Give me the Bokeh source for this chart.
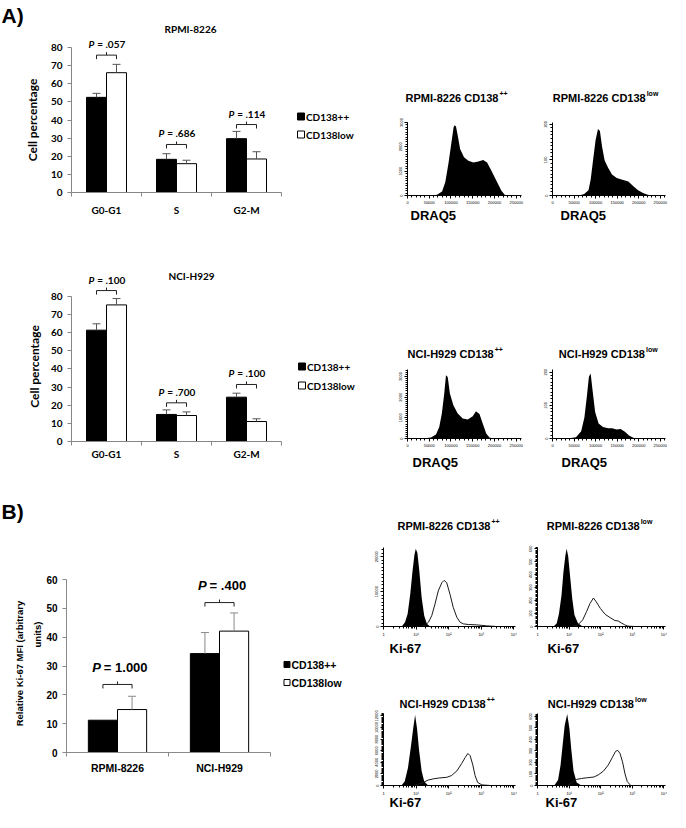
import math
from bokeh.plotting import figure
from bokeh.models import Range1d, FixedTicker, SingleIntervalTicker, LinearAxis, PrintfTickFormatter
from bokeh.embed import file_html
from bokeh.resources import INLINE
from bokeh.core.properties import value

# ---------------- data: bar charts ----------------
series_names = ["CD138++", "CD138low"]

phases = ["G0-G1", "S", "G2-M"]
rpmi_hi = [52.5, 18.3, 29.7]
rpmi_hi_err = [2.2, 3.1, 4.0]
rpmi_low = [66.1, 15.9, 18.5]
rpmi_low_err = [4.6, 1.9, 4.0]
rpmi_pvals = [".057", ".686", ".114"]
rpmi_bracket_y = [75.8, 26.5, 37.5]

nci_hi = [61.3, 14.9, 24.4]
nci_hi_err = [3.5, 2.5, 2.2]
nci_low = [75.2, 14.3, 11.0]
nci_low_err = [3.5, 2.0, 1.5]
nci_pvals = [".100", ".700", ".100"]
nci_bracket_y = [83.1, 21.3, 31.4]

cell_lines = ["RPMI-8226", "NCI-H929"]
ki_hi = [11.2, 34.3]
ki_hi_err = [0.0, 7.3]
ki_low = [14.9, 42.1]
ki_low_err = [4.6, 6.3]
ki_pvals = ["1.000", ".400"]
ki_bracket_y = [23.6, 52.0]

# ---------------- data: DRAQ5 histograms ----------------
draq_rpmi_hi_x = [53000, 68000, 79500, 87000, 94500, 101000, 106000, 108500, 111500, 115000, 121000,
                  130000, 140000, 151500, 163000, 174000, 183000, 193000, 204500, 216000, 223500, 231000]
draq_rpmi_hi_y = [0, 30, 160, 550, 1360, 2180, 2800, 2890, 2840, 2520, 1910,
                  1570, 1430, 1360, 1400, 1460, 1360, 1020, 610, 200, 30, 0]
draq_rpmi_low_x = [62000, 73500, 83500, 88500, 94000, 100000, 105500, 110000, 115000, 121000,
                   129000, 138000, 149000, 162000, 176000, 187000, 198500, 210000, 221000, 232500]
draq_rpmi_low_y = [0, 4, 15, 44, 98, 156, 187, 181, 137, 98, 78, 59, 49, 44, 39, 27, 15, 7, 2, 0]
draq_nci_hi_x = [34500, 54000, 65500, 73000, 79000, 84500, 88500, 92500, 97500, 105500,
                 115500, 127000, 138500, 150000, 157500, 165500, 173000, 181000, 188500, 196000]
draq_nci_hi_y = [0, 50, 190, 560, 1210, 2180, 3060, 2980, 2180, 1610, 1210, 970, 920, 1080, 1320,
                 1180, 730, 240, 50, 0]
draq_nci_low_x = [35000, 54500, 66500, 74000, 79500, 84500, 88500, 93000, 99000, 107000,
                  117000, 129000, 138500, 148500, 158000, 168000, 177500, 187500, 195500]
draq_nci_low_y = [0, 4, 22, 63, 124, 186, 196, 145, 79, 45, 35, 31, 31, 27, 29, 20, 9, 2, 0]

# ---------------- data: Ki-67 histograms (x = log10 fluorescence) ----------------
ki_rpmi_hi_fill_x = [0.56, 0.66, 0.74, 0.82, 0.89, 0.95, 0.99, 1.04, 1.10, 1.17, 1.25, 1.33, 1.43]
ki_rpmi_hi_fill_y = [0, 1230, 3590, 9250, 15850, 20570, 22260, 21040, 15850, 8300, 3110, 760, 0]
ki_rpmi_hi_x = [1.12, 1.28, 1.38, 1.48, 1.58, 1.68, 1.79, 1.86, 1.94, 2.04, 2.14, 2.25, 2.35, 2.45,
                2.60, 2.86, 3.16, 3.47]
ki_rpmi_hi_y = [0, 380, 1230, 3110, 6420, 10190, 12550, 13210, 12550, 9250, 5470, 2640, 1230, 760,
                570, 470, 190, 0]
ki_rpmi_low_fill_x = [0.51, 0.61, 0.68, 0.76, 0.82, 0.88, 0.92, 0.97, 1.03, 1.10, 1.17, 1.28, 1.43]
ki_rpmi_low_fill_y = [0, 25, 101, 241, 418, 544, 600, 544, 392, 215, 89, 25, 0]
ki_rpmi_low_x = [1.12, 1.28, 1.43, 1.55, 1.66, 1.77, 1.86, 1.99, 2.14, 2.30, 2.45, 2.55, 2.65, 2.76,
                 2.86, 3.06]
ki_rpmi_low_y = [0, 13, 51, 114, 177, 220, 190, 139, 94, 68, 46, 43, 28, 13, 3, 0]
ki_nci_hi_fill_x = [0.55, 0.65, 0.75, 0.84, 0.91, 0.97, 1.03, 1.09, 1.17, 1.25, 1.37]
ki_nci_hi_fill_y = [0, 680, 3030, 6680, 9810, 12160, 9810, 6160, 2510, 680, 0]
ki_nci_hi_x = [0.91, 1.06, 1.22, 1.37, 1.53, 1.73, 1.94, 2.09, 2.25, 2.40, 2.51, 2.59, 2.66, 2.74,
               2.81, 2.89, 3.02, 3.28]
ki_nci_hi_y = [0, 210, 520, 940, 1150, 1310, 1410, 1720, 2510, 3810, 4860, 5530, 5120, 3550, 1720,
               520, 100, 0]
ki_nci_low_fill_x = [0.53, 0.65, 0.73, 0.80, 0.86, 0.94, 1.01, 1.07, 1.14, 1.24, 1.39]
ki_nci_low_fill_y = [0, 47, 179, 363, 521, 621, 495, 311, 126, 26, 0]
ki_nci_low_x = [0.94, 1.09, 1.24, 1.39, 1.59, 1.79, 1.94, 2.09, 2.24, 2.37, 2.47, 2.54, 2.61, 2.69,
                2.77, 2.84, 2.95]
ki_nci_low_y = [0, 26, 53, 61, 68, 74, 95, 126, 179, 245, 297, 305, 279, 205, 100, 34, 0]

log_labels = {0: "1", 1: "10\u00b9", 2: "10\u00b2", 3: "10\u00b3", 4: "10\u2074"}

ARI = "Liberation Sans"
CAL = "Lato"

# One canvas; every panel gets its own named ranges and its own axes.
W, H = 670, 812
DX = -3  # small horizontal shift so the page margin does not push the right edge out
p = figure(width=W, height=H, x_range=Range1d(0, W), y_range=Range1d(H, 0),
           x_axis_type=None, y_axis_type=None, output_backend="svg",
           toolbar_location=None, min_border=0)
p.outline_line_color = None
p.xgrid.visible = False
p.ygrid.visible = False
XR, YR = {}, {}


def panel(name, px0, px1, x0, x1, pyb, pyt, y0, y1):
    px0 += DX
    px1 += DX
    sx = (x1 - x0) / (px1 - px0)
    xs = x0 - px0 * sx
    XR[name] = Range1d(xs, xs + W * sx)
    sy = (y1 - y0) / (pyb - pyt)
    YR[name] = Range1d(y0 - (H - pyb) * sy, y0 + pyb * sy)
    return dict(x_range_name=name, y_range_name=name)


def txt(x, y, s, font, size, style="bold", align="left", angle=0.0):
    p.text(x=[x + DX], y=[y], text=[s], text_font=value(font), text_font_size=value(size),
           text_font_style=style, text_color="black", text_align=align,
           text_baseline="middle", angle=angle)


def est_w(s, size, tbl):
    return sum(tbl.get(c, 0.58) for c in s) * size


LATO_W = {"P": 0.62, "=": 0.58, " ": 0.19, ".": 0.26}
ARI_W = {"P": 0.667, "=": 0.584, " ": 0.278, ".": 0.278}


def bar_panel(name, px0, cat_px, pyb, unit_px, cats, hi, hi_err, lo, lo_err, pv, pv_y, ymax, c):
    n = len(cats)
    rn = panel(name, px0, px0 + n * cat_px, 0, n, pyb, pyb - ymax * unit_px, 0, ymax)
    bw = 2.0 / 7.0
    centers = [i + 0.5 for i in range(n)]
    xh = [cc - bw / 2 for cc in centers]
    xl = [cc + bw / 2 for cc in centers]
    p.vbar(x=xh, top=hi, bottom=0, width=bw, fill_color="black", line_color="black",
           line_width=1, **rn)
    p.vbar(x=xl, top=lo, bottom=0, width=bw, fill_color="white", line_color="black",
           line_width=1, **rn)
    ex, e0, e1 = [], [], []
    for x, v, e in zip(xh + xl, hi + lo, hi_err + lo_err):
        if e > 0:
            ex.append(x); e0.append(v); e1.append(v + e)
    cap = c["cap"] / cat_px
    p.segment(x0=ex, y0=e0, x1=ex, y1=e1, line_color=c["err"], line_width=1, **rn)
    p.segment(x0=[x - cap / 2 for x in ex], y0=e1, x1=[x + cap / 2 for x in ex], y1=e1,
              line_color=c["err"], line_width=1, **rn)
    # significance brackets
    dend = 4 / unit_px
    dmid = 3 / unit_px
    bx0, by0, bx1, by1 = [], [], [], []
    for i, yb in enumerate(pv_y):
        a, b, m = xh[i], xl[i], centers[i]
        bx0 += [a, a, b, m]; by0 += [yb, yb, yb, yb]
        bx1 += [b, a, b, m]; by1 += [yb, yb - dend, yb - dend, yb + dmid]
    p.segment(x0=bx0, y0=by0, x1=bx1, y1=by1, line_color="#222222", line_width=1, **rn)
    # p-value texts (italic P + bold rest)
    tbl = c["wtbl"]
    fs = c["pfs"]
    eq = ["= " + t for t in pv]
    poff, eoff = [], []
    for t in eq:
        wp = est_w("P", fs, tbl)
        we = est_w(t, fs, tbl)
        left = -(wp + 3 + we) / 2 + c["pshift"]
        poff.append(left + wp)
        eoff.append(left + wp + 3)
    common = dict(text_font=value(c["font"]), text_font_size=value(f"{fs}px"), text_color="black",
                  text_baseline="middle", y_offset=-c["pdy"], **rn)
    p.text(x=centers, y=pv_y, text=["P"] * n, x_offset=poff, text_align="right",
           text_font_style="bold italic", **common)
    p.text(x=centers, y=pv_y, text=eq, x_offset=eoff, text_align="left",
           text_font_style="bold", **common)
    # legend (page coordinates)
    lx = c["leg_x"] + DX
    ly = c["leg_y"]
    p.scatter(x=[lx, lx], y=ly, marker="square", size=c["leg_size"],
              fill_color=["black", "white"], line_color="black", line_width=1)
    p.text(x=[lx, lx], y=ly, text=series_names, x_offset=c["leg_size"] / 2 + 1.5,
           text_font=value(c["font"]), text_font_size=value(c["leg_fs"]), text_font_style="bold",
           text_color="black", text_baseline="middle", text_align="left")
    # axes
    ya = LinearAxis(fixed_location=0, bounds=(0, ymax),
                    ticker=FixedTicker(ticks=list(range(0, ymax + 1, 10))), **rn)
    xa = LinearAxis(fixed_location=0, bounds=(0, n),
                    ticker=FixedTicker(ticks=centers, minor_ticks=list(range(n + 1))), **rn)
    xa.major_label_overrides = {cc: lb for cc, lb in zip(centers, cats)}
    for ax in (xa, ya):
        ax.axis_line_color = c["axis"]
        ax.major_label_text_font = c["font"]
        ax.major_label_text_font_style = "bold"
        ax.major_label_text_color = "black"
    ya.major_label_text_font_size = c["tick_fs"]
    xa.major_label_text_font_size = c["xlab_fs"]
    ya.major_tick_line_color = c["axis"]
    ya.major_tick_out = 4
    ya.major_tick_in = 0
    ya.minor_tick_line_color = None
    ya.major_label_standoff = 5
    xa.major_tick_line_color = None
    xa.major_tick_out = 0
    xa.major_tick_in = 0
    xa.minor_tick_line_color = c["axis"]
    xa.minor_tick_out = 4
    xa.minor_tick_in = 0
    xa.major_label_standoff = c["xstand"]
    p.add_layout(ya, "left")
    p.add_layout(xa, "below")


def hist_panel(name, frame, xmax, ymax, yint, fills, lines, title, sup, tcx, tcy,
               xlab, xlx, xly, logx):
    fl, ft, fr, fb = frame
    rn = panel(name, fl, fr, 0, xmax, fb, ft, 0, ymax)
    for xs, ys in fills:
        p.varea(x=xs, y1=[0] * len(xs), y2=ys, fill_color="black", **rn)
    for xs, ys in lines:
        p.line(x=xs, y=ys, line_color="#1a1a1a", line_width=1, **rn)
    if logx:
        xt = FixedTicker(ticks=[0, 1, 2, 3, 4],
                         minor_ticks=[d + math.log10(k) for d in range(4) for k in range(2, 10)])
    else:
        xt = SingleIntervalTicker(interval=50000, num_minor_ticks=5)
    xa = LinearAxis(fixed_location=0, bounds=(0, xmax), ticker=xt, **rn)
    if logx:
        xa.major_label_overrides = log_labels
    else:
        xa.formatter = PrintfTickFormatter(format="%d")
    ya = LinearAxis(fixed_location=0, bounds=(0, ymax),
                    ticker=SingleIntervalTicker(interval=yint, num_minor_ticks=10),
                    formatter=PrintfTickFormatter(format="%d"), **rn)
    ya.major_label_orientation = "vertical"
    for ax in (xa, ya):
        ax.axis_line_color = "black"
        ax.major_tick_line_color = "black"
        ax.minor_tick_line_color = "black"
        ax.major_tick_out = 3
        ax.major_tick_in = 0
        ax.minor_tick_out = 2
        ax.minor_tick_in = 0
        ax.major_label_text_font = ARI
        ax.major_label_text_font_size = "4px"
        ax.major_label_text_color = "black"
        ax.major_label_standoff = 2
    p.add_layout(ya, "left")
    p.add_layout(xa, "below")
    fs = 11
    w_main = 0.49 * len(title) * fs
    w_sup = 0.5 * len(sup) * 7
    anchor = tcx + (w_main - w_sup) / 2
    txt(anchor, tcy, title, ARI, f"{fs}px", align="right")
    txt(anchor + 1, tcy - 4, sup, ARI, "7px", align="left")
    txt(xlx, xly, xlab, ARI, "13px", align="left")


# ---------------- panel A bar charts ----------------
cfgA = dict(font=CAL, wtbl=LATO_W, pfs=10, pshift=0, pdy=11, cap=8, err="#555555",
            axis="#868686", tick_fs="10px", xlab_fs="10px", leg_size=7, leg_fs="10px")

bar_panel("a1", 74, 70, 192, 145 / 80, phases, rpmi_hi, rpmi_hi_err, rpmi_low, rpmi_low_err,
          rpmi_pvals, rpmi_bracket_y, 80, dict(cfgA, leg_x=303.5, leg_y=[116, 134], xstand=7))
txt(4, 14.5, "A)", ARI, "21px")
txt(193, 28, "RPMI-8226", CAL, "10px", align="center")
txt(35, 119.5, "Cell percentage", CAL, "12px", align="center", angle=math.pi / 2)

bar_panel("a2", 74, 70, 441, 145.3 / 80, phases, nci_hi, nci_hi_err, nci_low, nci_low_err,
          nci_pvals, nci_bracket_y, 80, dict(cfgA, leg_x=304.5, leg_y=[366, 385], xstand=2))
txt(194, 275, "NCI-H929", CAL, "10px", align="center")
txt(37, 366, "Cell percentage", CAL, "12px", align="center", angle=math.pi / 2)

# ---------------- panel B bar chart ----------------
cfgB = dict(font=ARI, wtbl=ARI_W, pfs=13, pshift=3, pdy=17, cap=8, err="#8a8a8a",
            axis="#8a8a8a", tick_fs="10px", xlab_fs="10.5px", leg_size=6, leg_fs="10.5px",
            leg_x=289.5, leg_y=[664, 682], xstand=5)
bar_panel("b", 69, 102, 752, 173 / 60, cell_lines, ki_hi, ki_hi_err, ki_low, ki_low_err,
          ki_pvals, ki_bracket_y, 60, cfgB)
txt(4, 511, "B)", ARI, "21px")
txt(22, 663, "Relative Ki-67 MFI (arbitrary", ARI, "9.5px", align="center", angle=math.pi / 2)
txt(40, 634, "units)", ARI, "9.5px", align="center", angle=math.pi / 2)

# ---------------- histograms ----------------
DRX = 262144
LGX = 4.05
hist_panel("h1", (410, 122, 524, 195), DRX, 3000, 1000, [(draq_rpmi_hi_x, draq_rpmi_hi_y)], [],
           "RPMI-8226 CD138", "++", 464, 97, "DRAQ5", 413, 215, False)
hist_panel("h2", (555, 122, 668, 195), DRX, 205, 100, [(draq_rpmi_low_x, draq_rpmi_low_y)], [],
           "RPMI-8226 CD138", "low", 613, 97, "DRAQ5", 563, 215, False)
hist_panel("h3", (410, 369, 524, 438), DRX, 3340, 1000, [(draq_nci_hi_x, draq_nci_hi_y)], [],
           "NCI-H929 CD138", "++", 462, 353, "DRAQ5", 415, 462, False)
hist_panel("h4", (555, 369, 668, 438), DRX, 208, 100, [(draq_nci_low_x, draq_nci_low_y)], [],
           "NCI-H929 CD138", "low", 615, 353, "DRAQ5", 564, 462, False)
hist_panel("h5", (386, 547, 518, 626), LGX, 22640, 10000,
           [(ki_rpmi_hi_fill_x, ki_rpmi_hi_fill_y)], [(ki_rpmi_hi_x, ki_rpmi_hi_y)],
           "RPMI-8226 CD138", "++", 456, 525, "Ki-67", 392, 648, True)
hist_panel("h6", (540, 547, 668, 626), LGX, 610, 100,
           [(ki_rpmi_low_fill_x, ki_rpmi_low_fill_y)], [(ki_rpmi_low_x, ki_rpmi_low_y)],
           "RPMI-8226 CD138", "low", 607, 525, "Ki-67", 550, 648, True)
hist_panel("h7", (386, 713, 518, 785), LGX, 12420, 2000,
           [(ki_nci_hi_fill_x, ki_nci_hi_fill_y)], [(ki_nci_hi_x, ki_nci_hi_y)],
           "NCI-H929 CD138", "++", 454, 703, "Ki-67", 392, 802, True)
hist_panel("h8", (540, 713, 668, 785), LGX, 626, 100,
           [(ki_nci_low_fill_x, ki_nci_low_fill_y)], [(ki_nci_low_x, ki_nci_low_y)],
           "NCI-H929 CD138", "low", 604, 703, "Ki-67", 548, 802, True)

p.extra_x_ranges = XR
p.extra_y_ranges = YR

open("out.html", "w").write(file_html(p, INLINE))
